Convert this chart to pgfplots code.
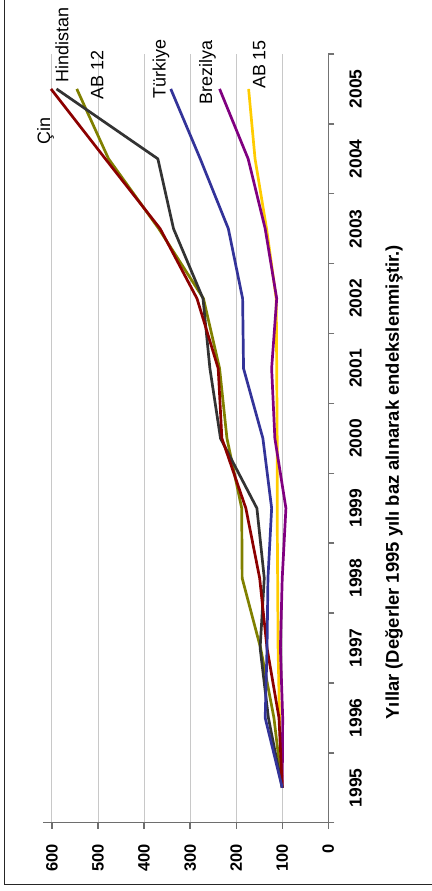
\documentclass[border=0pt]{standalone}
\usepackage{fontspec}
\setmainfont{Liberation Sans}
\usepackage{pgfplots}
\pgfplotsset{compat=1.18}
\definecolor{cin}{RGB}{140,0,0}
\definecolor{hind}{RGB}{51,51,51}
\definecolor{abon}{RGB}{128,128,0}
\definecolor{turk}{RGB}{51,51,153}
\definecolor{brez}{RGB}{128,0,128}
\definecolor{abfif}{RGB}{255,204,0}
\definecolor{axgray}{RGB}{110,110,110}
\definecolor{grgray}{RGB}{200,200,200}
\begin{document}
\begin{tikzpicture}
\path[use as bounding box] (0,0) rectangle (432bp,891bp);
\draw[line width=1.3bp, black!85] (4.7bp,900bp) -- (4.7bp,6.7bp) -- (440bp,6.7bp);
\begin{axis}[
  at={(42.7bp,68.3bp)}, anchor=south west,
  scale only axis, width=285.6bp, height=768.7bp,
  x dir=reverse,
  xmin=0, xmax=620, ymin=-0.5, ymax=10.5,
  axis x line*=bottom, axis y line*=right,
  axis line style={draw=axgray, line width=1.5bp},
  y axis line style={draw=axgray, line width=1.5bp},
  xtick={100,200,...,600},
  extra x ticks={0},
  extra x tick style={grid=none},
  xmajorgrids,
  grid style={color=grgray, line width=0.9bp},
  tick align=outside,
  major tick length=6bp,
  tick style={color=axgray, line width=1.3bp},
  ytick style={color=axgray, line width=1.4bp},
  /pgf/number format/assume math mode=true,
  xticklabel style={rotate=90, anchor=east, inner sep=0pt, font=\bfseries\fontsize{16.5}{16.5}\selectfont},
  xticklabel shift=15bp,
  ytick={-0.5,0.5,...,10.5},
  yticklabels={,,,,,,,,,,,,},
  extra y ticks={0,1,...,10},
  extra y tick labels={1995,1996,1997,1998,1999,2000,2001,2002,2003,2004,2005},
  extra y tick style={major tick length=0pt},
  yticklabel style={rotate=90, anchor=north, inner sep=0pt, font=\bfseries\fontsize{17.5}{17.5}\selectfont},
  yticklabel shift=21bp,
  ylabel={Yıllar (Değerler 1995 yılı baz alınarak endekslenmiştir.)},
  every axis y label/.style={at={(axis description cs:1.230,0.443)}, rotate=90, anchor=center, font=\bfseries\fontsize{18.5}{18.5}\selectfont},
  clip=false,
  every axis plot/.append style={line width=2.7bp, line join=round, mark=none},
]
\addplot[abfif] coordinates {(100,0)(106,1)(109,2)(110,3)(111,4)(111,5)(112,6)(113,7)(134,8)(159,9)(173,10)};
\addplot[brez] coordinates {(100,0)(99,1)(104,2)(100,3)(92,4)(116,5)(123,6)(112,7)(137,8)(174,9)(236,10)};
\addplot[abon] coordinates {(100,0)(118,1)(147,2)(187,3)(188,4)(220,5)(236,6)(271,7)(368,8)(477,9)(546,10)};
\addplot[hind] coordinates {(100,0)(130,1)(148,2)(139,3)(155,4)(234,5)(257,6)(272,7)(336,8)(370,9)(590,10)};
\addplot[cin] coordinates {(100,0)(107,1)(133,2)(149,3)(179,4)(231,5)(239,6)(285,7)(365,8)(484,9)(602,10)};
\addplot[turk] coordinates {(100,0)(137,1)(133,2)(131,3)(123,4)(142,5)(184,6)(186,7)(217,8)(278,9)(342,10)};
\draw[draw=black!55, line width=1.5bp] (axis cs:0,-0.5) -- (axis cs:0,10.5);
\pgfplotsinvokeforeach{-0.5,0.5,1.5,2.5,3.5,4.5,5.5,6.5,7.5,8.5,9.5,10.5}{
  \draw[draw=black!55, line width=1.3bp] (axis cs:0,#1) -- ++(6bp,0bp);
}
\begin{scope}[every node/.style={rotate=90, anchor=center, inner sep=0pt, font=\fontsize{18}{18}\selectfont}]
\node at (axis cs:614,9.4) {Çin};
\node at (axis cs:578,10.63) {Hindistan};
\node at (axis cs:502,10.2) {AB 12};
\node at (axis cs:363,10.29) {Türkiye};
\node at (axis cs:262,10.24) {Brezilya};
\node at (axis cs:150,10.35) {AB 15};
\end{scope}
\end{axis}
\end{tikzpicture}
\end{document}
